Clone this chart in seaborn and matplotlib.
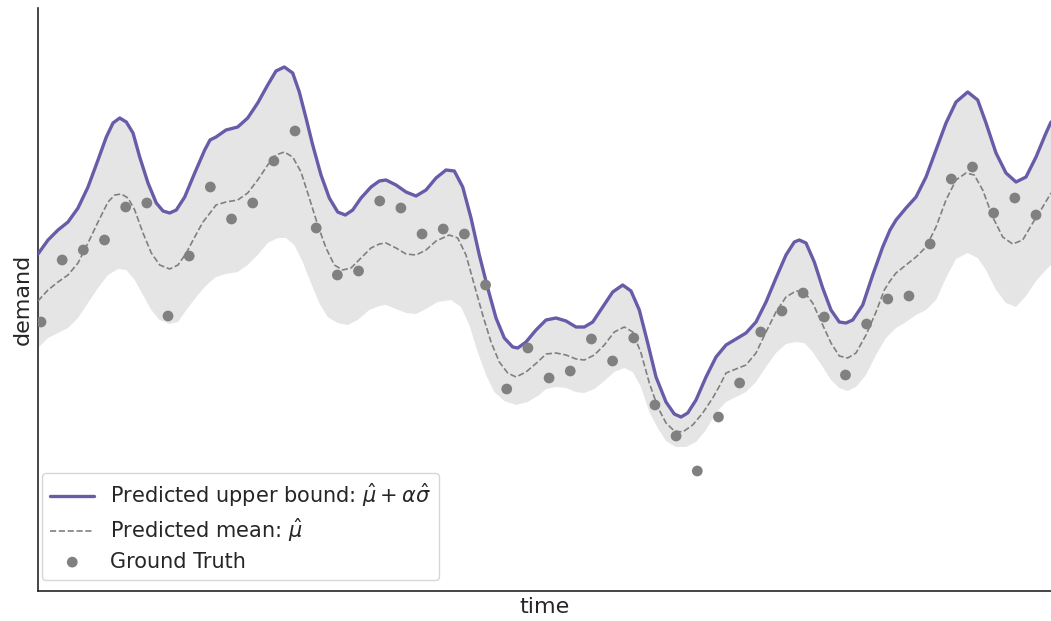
import numpy as np
import pandas as pd
import matplotlib
matplotlib.use("Agg")
import matplotlib.pyplot as plt
import seaborn as sns

# ---- data (time index, demand in arbitrary units) ----
gt_time = list(range(48))
gt_demand = [26.9, 33.1, 34.1, 35.1, 38.4, 38.8, 27.5, 33.5, 40.4, 37.2, 38.8, 43.0,
             46.0, 36.3, 31.6, 32.0, 39.0, 38.3, 35.7, 36.2, 35.7, 30.6, 20.2, 24.3,
             21.3, 22.0, 25.2, 23.0, 25.3, 18.6, 15.5, 12.0, 17.4, 20.8, 25.9, 28.0,
             29.8, 27.4, 21.6, 26.7, 29.2, 29.5, 34.7, 41.2, 42.4, 37.8, 39.3, 37.6]

upper_t = [-0.142, 0.331, 0.803, 1.275, 1.748, 2.220, 2.692, 3.085, 3.401, 3.718, 4.029,
           4.346, 4.662, 5.054, 5.446, 5.763, 6.079, 6.391, 6.788, 7.260, 7.733, 7.983,
           8.266, 8.739, 9.291, 9.764, 10.236, 10.708, 11.100, 11.493, 11.889, 12.201,
           12.518, 12.834, 13.226, 13.618, 14.015, 14.374, 14.724, 15.116, 15.588, 15.981,
           16.297, 16.769, 17.242, 17.714, 18.186, 18.659, 19.131, 19.523, 19.920, 20.312,
           20.704, 21.101, 21.493, 21.885, 22.282, 22.518, 22.910, 23.383, 23.855, 24.327,
           24.800, 25.272, 25.664, 26.061, 26.533, 27.006, 27.478, 27.870, 28.262, 28.659,
           29.051, 29.523, 29.915, 30.232, 30.548, 30.940, 31.413, 31.885, 32.357, 32.830,
           33.302, 33.774, 34.247, 34.719, 35.191, 35.583, 35.820, 36.136, 36.528, 36.925,
           37.317, 37.709, 38.026, 38.342, 38.815, 39.287, 39.759, 40.104, 40.388, 40.860,
           41.332, 41.805, 42.277, 42.749, 43.222, 43.774, 44.247, 44.639, 45.111, 45.583,
           46.056, 46.528, 47.001, 47.473, 47.709]
upper_d = [33.7, 35.1, 36.1, 36.9, 38.3, 40.4, 43.1, 45.4, 46.8, 47.3, 46.9,
           45.8, 43.4, 40.8, 38.8, 38.0, 37.8, 38.1, 39.4, 41.8, 44.1, 45.1,
           45.4, 46.1, 46.4, 47.3, 48.8, 50.6, 52.0, 52.4, 51.8, 49.9,
           47.3, 44.6, 41.6, 39.3, 37.9, 37.6, 38.1, 39.3, 40.4, 41.0,
           41.1, 40.6, 39.9, 39.5, 40.1, 41.3, 42.1, 42.0, 40.4, 37.3,
           33.6, 30.3, 27.3, 25.3, 24.4, 24.3, 24.9, 26.1, 27.1, 27.3,
           27.0, 26.4, 26.4, 26.9, 28.4, 29.9, 30.6, 30.0, 28.1, 24.8,
           21.4, 18.9, 17.7, 17.4, 17.8, 19.1, 21.4, 23.4, 24.6, 25.2,
           25.8, 26.9, 28.9, 31.3, 33.6, 34.9, 35.1, 34.8, 32.9, 30.3,
           28.1, 26.9, 26.8, 27.1, 28.6, 31.6, 34.4, 36.1, 37.1, 38.3,
           39.4, 41.4, 44.1, 46.8, 48.9, 49.9, 49.1, 46.8, 43.8, 41.8,
           40.9, 41.4, 43.4, 45.8, 46.9]

mean_t = [-0.142, 0.331, 0.803, 1.275, 1.748, 2.220, 2.692, 3.165, 3.481, 3.793, 4.110,
          4.426, 4.818, 5.210, 5.607, 6.079, 6.471, 6.864, 7.260, 7.652, 7.983, 8.266,
          8.739, 9.291, 9.764, 10.236, 10.708, 11.100, 11.493, 11.889, 12.282, 12.674,
          13.071, 13.463, 13.855, 14.252, 14.644, 15.116, 15.588, 15.981, 16.297, 16.769,
          17.242, 17.714, 18.186, 18.659, 19.287, 19.684, 20.076, 20.468, 20.865, 21.257,
          21.649, 22.046, 22.438, 22.910, 23.463, 23.855, 24.327, 24.800, 25.272, 25.664,
          26.137, 26.609, 27.081, 27.554, 27.951, 28.343, 28.735, 29.131, 29.523, 29.915,
          30.312, 30.784, 31.257, 31.729, 32.074, 32.357, 32.830, 33.302, 33.774, 34.247,
          34.719, 35.191, 35.663, 36.056, 36.452, 36.925, 37.317, 37.709, 38.106, 38.498,
          38.970, 39.443, 39.835, 40.104, 40.388, 40.860, 41.332, 41.805, 42.277, 42.749,
          43.222, 43.694, 44.086, 44.483, 44.955, 45.427, 45.900, 46.372, 46.845, 47.317,
          47.709]
mean_d = [29.0, 30.1, 30.9, 31.6, 32.8, 34.8, 36.9, 38.9, 39.6, 39.7, 39.3,
          38.1, 35.8, 33.8, 32.6, 32.2, 32.6, 33.8, 35.4, 36.9, 37.8, 38.6,
          38.9, 39.1, 39.8, 41.1, 42.6, 43.6, 43.9, 43.4, 41.9, 39.3,
          36.6, 34.3, 32.6, 32.1, 32.3, 33.3, 34.3, 34.7, 34.8, 34.3,
          33.7, 33.6, 34.1, 35.0, 35.6, 35.3, 33.6, 30.6, 27.6, 24.9,
          22.9, 21.8, 21.4, 21.9, 22.9, 23.7, 23.8, 23.6, 23.2, 23.1,
          23.6, 24.6, 25.9, 26.4, 25.9, 23.8, 20.8, 18.4, 16.8, 16.0,
          15.9, 16.6, 17.8, 19.3, 20.6, 21.8, 22.2, 22.6, 23.8, 25.9,
          27.9, 29.4, 30.0, 29.9, 28.8, 26.6, 24.8, 23.5, 23.3, 23.8,
          25.6, 27.9, 30.1, 31.0, 31.8, 32.6, 33.4, 34.4, 36.4, 39.1,
          41.1, 41.8, 41.6, 40.1, 37.4, 35.4, 34.7, 35.1, 36.8, 38.4,
          39.8]

lower_t = [-0.142, 0.331, 0.803, 1.275, 1.748, 2.220, 2.692, 3.165, 3.637, 4.029, 4.426,
           4.818, 5.210, 5.607, 6.079, 6.471, 6.864, 7.336, 7.733, 7.983, 8.266, 8.739,
           9.291, 9.764, 10.236, 10.708, 11.180, 11.574, 11.966, 12.362, 12.754, 13.146,
           13.543, 14.015, 14.488, 14.960, 15.508, 15.981, 16.297, 16.769, 17.242, 17.714,
           18.186, 18.739, 19.367, 19.840, 20.232, 20.629, 21.021, 21.413, 21.885, 22.438,
           22.991, 23.538, 23.855, 24.327, 24.800, 25.272, 25.664, 26.137, 26.609, 27.081,
           27.554, 27.951, 28.343, 28.735, 29.131, 29.523, 29.995, 30.468, 30.940, 31.413,
           31.885, 32.357, 32.830, 33.302, 33.774, 34.247, 34.719, 35.191, 35.663, 36.056,
           36.452, 36.925, 37.317, 37.709, 38.106, 38.498, 38.970, 39.443, 39.915, 40.388,
           40.860, 41.332, 41.805, 42.277, 42.749, 43.222, 43.774, 44.247, 44.639, 45.111,
           45.583, 46.056, 46.528, 47.001, 47.473, 47.709]
lower_d = [24.3, 25.3, 25.8, 26.3, 27.3, 28.8, 30.3, 31.6, 32.2, 32.1, 31.1,
           29.6, 28.1, 27.1, 26.7, 26.9, 28.1, 29.4, 30.4, 30.9, 31.4, 31.7,
           31.9, 32.6, 33.6, 34.8, 35.3, 35.3, 34.6, 32.9, 30.8, 28.8,
           27.4, 26.8, 26.6, 27.1, 28.1, 28.5, 28.6, 28.2, 27.8, 27.7,
           28.2, 28.9, 29.1, 28.4, 26.6, 23.9, 21.6, 19.9, 19.0, 18.6,
           18.9, 19.6, 20.2, 20.4, 20.3, 19.9, 19.8, 20.2, 21.0, 21.9,
           22.3, 21.9, 20.4, 17.9, 16.3, 15.0, 14.4, 14.4, 14.9, 16.1,
           17.8, 18.9, 19.4, 19.9, 20.9, 22.4, 23.8, 24.7, 24.9, 24.8,
           23.9, 22.4, 21.1, 20.3, 20.0, 20.4, 21.6, 23.6, 25.3, 26.3,
           26.9, 27.6, 28.1, 29.1, 31.3, 33.2, 33.8, 33.3, 32.1, 30.1,
           28.8, 28.4, 29.5, 31.0, 32.1, 32.6]

# ---- styling ----
sns.set_theme(style="white")
plt.rcParams["font.family"] = ["DejaVu Sans"]

fig = plt.figure(figsize=(10.51, 6.21), dpi=100)
ax = fig.add_axes([38 / 1051, 30 / 621, 1 - 38 / 1051, 583 / 621])

purple = "#6a5ba8"
grey = "#808080"

# confidence band
band_x = np.concatenate([upper_t, lower_t[::-1]])
band_y = np.concatenate([upper_d, lower_d[::-1]])
ax.fill(band_x, band_y, color="#e5e5e5", linewidth=0, zorder=1)

up_df = pd.DataFrame({"time": upper_t, "demand": upper_d})
mu_df = pd.DataFrame({"time": mean_t, "demand": mean_d})
gt_df = pd.DataFrame({"time": gt_time, "demand": gt_demand})

sns.lineplot(data=up_df, x="time", y="demand", ax=ax, color=purple, linewidth=2.4,
             estimator=None, label=r"Predicted upper bound: $\hat{\mu}+\alpha\hat{\sigma}$", zorder=3)
sns.lineplot(data=mu_df, x="time", y="demand", ax=ax, color=grey, linewidth=1.2,
             linestyle="--", estimator=None, label=r"Predicted mean: $\hat{\mu}$", zorder=3)
sns.scatterplot(data=gt_df, x="time", y="demand", ax=ax, color=grey, s=60,
                edgecolor="none", label="Ground Truth", zorder=4)

ax.set_xlim(-0.142, 47.709)
ax.set_ylim(0, 58.3)
ax.set_xticks([])
ax.set_yticks([])
ax.set_xlabel("time", fontsize=16)
ax.set_ylabel("demand", fontsize=16)
sns.despine(ax=ax)
for s in ("left", "bottom"):
    ax.spines[s].set_color("#262626")
    ax.spines[s].set_linewidth(1.2)

leg = ax.legend(loc="lower left", bbox_to_anchor=(0.004, 0.019), borderaxespad=0,
                fontsize=15.0, frameon=True, borderpad=0.4, labelspacing=0.36,
                handlelength=2.1, handletextpad=0.75)
leg.get_frame().set_edgecolor("#cccccc")

fig.savefig("out.png", dpi=100)
